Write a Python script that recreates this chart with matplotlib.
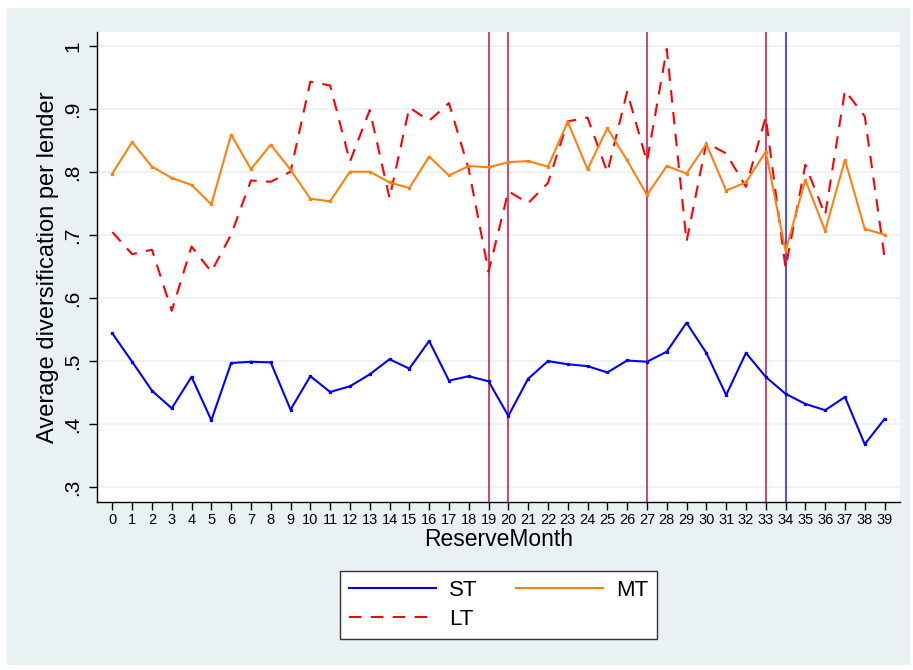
import matplotlib
matplotlib.use("Agg")
import matplotlib.pyplot as plt
from matplotlib.patches import Rectangle

plt.rcParams['font.family'] = ['Liberation Sans', 'DejaVu Sans']

months = list(range(40))
st = [0.544, 0.499, 0.453, 0.425, 0.475, 0.406, 0.497, 0.499, 0.498, 0.423,
      0.476, 0.451, 0.460, 0.479, 0.503, 0.488, 0.532, 0.469, 0.476, 0.468,
      0.413, 0.472, 0.500, 0.495, 0.492, 0.482, 0.501, 0.499, 0.515, 0.561,
      0.513, 0.446, 0.513, 0.475, 0.448, 0.432, 0.422, 0.443, 0.368, 0.408]
mt = [0.798, 0.848, 0.809, 0.791, 0.780, 0.749, 0.860, 0.805, 0.844, 0.804,
      0.758, 0.754, 0.801, 0.801, 0.784, 0.775, 0.825, 0.795, 0.810, 0.808,
      0.816, 0.818, 0.809, 0.880, 0.805, 0.870, 0.819, 0.764, 0.810, 0.798,
      0.845, 0.771, 0.784, 0.833, 0.675, 0.788, 0.707, 0.820, 0.710, 0.701]
lt = [0.705, 0.670, 0.677, 0.580, 0.682, 0.642, 0.701, 0.787, 0.785, 0.801,
      0.944, 0.938, 0.817, 0.899, 0.759, 0.903, 0.882, 0.910, 0.805, 0.642,
      0.770, 0.751, 0.783, 0.881, 0.887, 0.800, 0.928, 0.817, 0.996, 0.690,
      0.847, 0.830, 0.777, 0.888, 0.648, 0.812, 0.732, 0.930, 0.889, 0.665]
red_events = [19, 20, 27, 33]
blue_events = [34]
yticks = [0.3, 0.4, 0.5, 0.6, 0.7, 0.8, 0.9, 1.0]
ytick_labels = ['.3', '.4', '.5', '.6', '.7', '.8', '.9', '1']

W, H = 913, 670
fig = plt.figure(figsize=(W / 100, H / 100), dpi=100, facecolor='white')
fig.patches.append(Rectangle((7 / W, 1 - 665 / H), (910 - 7) / W, (665 - 8) / H,
                             transform=fig.transFigure, facecolor='#eaf1f3',
                             edgecolor='none', zorder=-10))

ax = fig.add_axes([97.3 / W, 1 - 501.7 / H, (900 - 97.3) / W, (501.7 - 32) / H])
ax.set_facecolor('white')

for v in red_events:
    ax.axvline(v, color='#cc1040', lw=1.1, zorder=3)
for v in blue_events:
    ax.axvline(v, color='#1a1aff', lw=1.1, zorder=3)

ax.plot(months, st, color='#0000ff', lw=1.5, marker='s', ms=1.4, label='ST', zorder=4)
ax.plot(months, lt, color='#ff0000', lw=1.5, dashes=(6, 4.5), label='LT', zorder=4)
ax.plot(months, mt, color='#ff8010', lw=1.5, marker='s', ms=1.4, label='MT', zorder=4)

ax.set_xlim(-0.76, 39.78)
ax.set_ylim(0.2766, 1.023)
ax.set_xticks(months)
ax.set_xticklabels([str(m) for m in months], fontsize=10.5)
ax.set_yticks(yticks)
ax.set_yticklabels(ytick_labels, fontsize=15, rotation=90, va='center')
ax.yaxis.grid(True, color='#eaf1f3', lw=1.2)
ax.set_axisbelow(True)
for s in ['top', 'right']:
    ax.spines[s].set_visible(False)
for s in ['left', 'bottom']:
    ax.spines[s].set_color('black')
    ax.spines[s].set_linewidth(1.0)
ax.tick_params(axis='both', direction='out', length=6, width=1, color='black')
ax.tick_params(axis='x', pad=2)
ax.tick_params(axis='y', pad=5)

ax.set_xlabel('ReserveMonth', fontsize=16.5, labelpad=1)
ax.set_ylabel('Average diversification per lender', fontsize=17, labelpad=3)

handles, labels = ax.get_legend_handles_labels()
leg = fig.legend(handles, labels, ncol=2, loc='center',
                 bbox_to_anchor=(340 / W, 1 - 643 / H, 317 / W, 76 / H),
                 mode='expand', fontsize=16, frameon=True, fancybox=False,
                 edgecolor='#333333', facecolor='white', framealpha=1,
                 handlelength=3.9, handletextpad=0.6, columnspacing=2.0,
                 borderaxespad=0, labelspacing=0.35)
leg.get_frame().set_linewidth(1.0)
for h in leg.legend_handles:
    h.set_marker('')

fig.savefig('out.png', dpi=100, facecolor=fig.get_facecolor())
